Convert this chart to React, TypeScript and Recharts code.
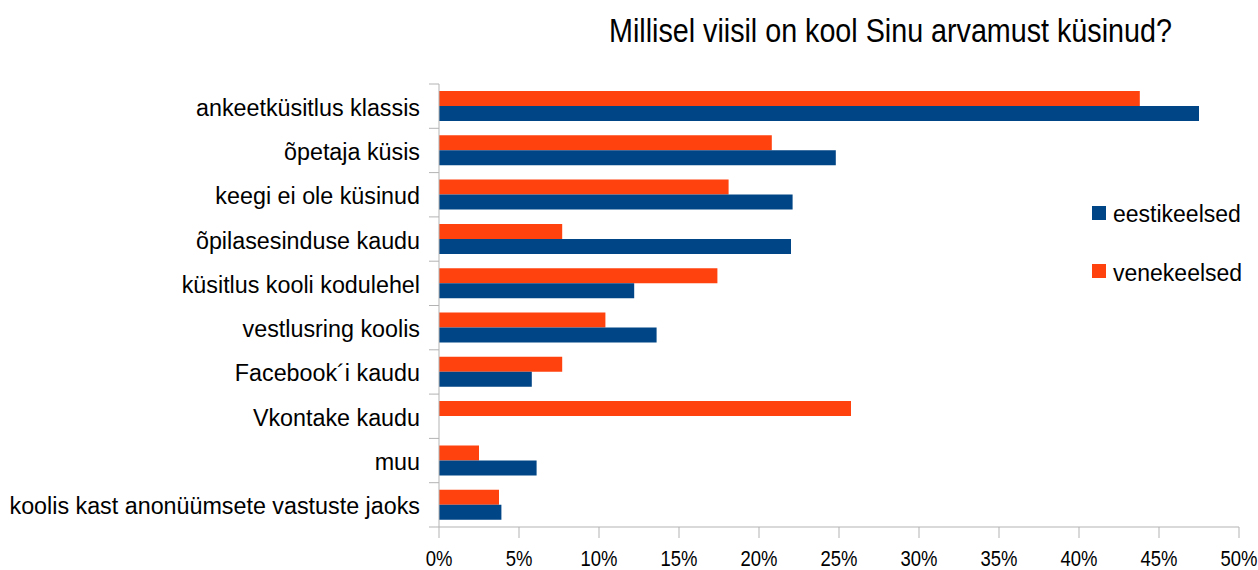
import { Bar, BarChart, XAxis, YAxis } from "recharts";

const categories = [
  "ankeetküsitlus klassis",
  "õpetaja küsis",
  "keegi ei ole küsinud",
  "õpilasesinduse kaudu",
  "küsitlus kooli kodulehel",
  "vestlusring koolis",
  "Facebook´i kaudu",
  "Vkontake kaudu",
  "muu",
  "koolis kast anonüümsete vastuste jaoks",
];
const eestikeelsed = [47.5, 24.8, 22.1, 22.0, 12.2, 13.6, 5.8, 0, 6.1, 3.9];
const venekeelsed = [43.8, 20.8, 18.1, 7.7, 17.4, 10.4, 7.7, 25.75, 2.5, 3.75];
const xTicks = [0, 5, 10, 15, 20, 25, 30, 35, 40, 45, 50];

const BLUE = "#004586";
const ORANGE = "#ff420e";
const AXIS = "#b3b3b3";
const FONT = "'Liberation Sans', Arial, sans-serif";

const data = categories.map((name, i) => ({ name, est: eestikeelsed[i], rus: venekeelsed[i] }));

const TOP = 84;
const BOTTOM = 43;
const HEIGHT = 570;
const BAND = (HEIGHT - TOP - BOTTOM) / categories.length;

// category labels plus the little boundary ticks between categories
function CategoryTick(props: any) {
  const { x, y, payload, index } = props;
  const last = index === categories.length - 1;
  return (
    <g>
      <line x1={x - 10} x2={x} y1={y - BAND / 2} y2={y - BAND / 2} stroke={AXIS} />
      {last && <line x1={x - 10} x2={x} y1={y + BAND / 2} y2={y + BAND / 2} stroke={AXIS} />}
      <text x={x - 19} y={y} dy={9.5} textAnchor="end" fontSize={23.3} fill="#000" fontFamily={FONT}>
        {payload.value}
      </text>
    </g>
  );
}

function PercentTick(props: any) {
  const { x, y, payload } = props;
  return (
    <text transform={`translate(${x},${y + 28}) scale(0.86,1)`} textAnchor="middle" fontSize={21.5} fill="#000" fontFamily={FONT}>
      {`${payload.value}%`}
    </text>
  );
}

export default function App() {
  return (
    <div style={{ position: "absolute", left: 0, top: 0, width: 1258, height: HEIGHT, background: "#fff" }}>
      <BarChart
        width={1258}
        height={HEIGHT}
        data={data}
        layout="vertical"
        margin={{ top: TOP, right: 19, left: 0, bottom: 0 }}
        barSize={15}
        barGap={0}
      >
        <XAxis
          type="number"
          domain={[0, 50]}
          ticks={xTicks}
          interval={0}
          height={BOTTOM}
          axisLine={{ stroke: AXIS }}
          tickLine={{ stroke: AXIS }}
          tickSize={11}
          tickMargin={0}
          tick={<PercentTick />}
        />
        <YAxis
          type="category"
          dataKey="name"
          width={439}
          interval={0}
          axisLine={{ stroke: AXIS }}
          tickLine={false}
          tickSize={0}
          tickMargin={0}
          tick={<CategoryTick />}
        />
        <Bar dataKey="rus" fill={ORANGE} isAnimationActive={false} />
        <Bar dataKey="est" fill={BLUE} isAnimationActive={false} />
      </BarChart>
      <svg width={1258} height={HEIGHT} style={{ position: "absolute", left: 0, top: 0, pointerEvents: "none" }} fontFamily={FONT}>
        <text transform="translate(609,42) scale(0.87,1)" fontSize={33} fill="#000">
          Millisel viisil on kool Sinu arvamust küsinud?
        </text>
        <rect x={1092} y={206} width={14} height={14} fill={BLUE} />
        <text x={1113} y={222} fontSize={23} fill="#000">eestikeelsed</text>
        <rect x={1092} y={264} width={14} height={14} fill={ORANGE} />
        <text x={1113} y={281} fontSize={23} fill="#000">venekeelsed</text>
      </svg>
    </div>
  );
}
